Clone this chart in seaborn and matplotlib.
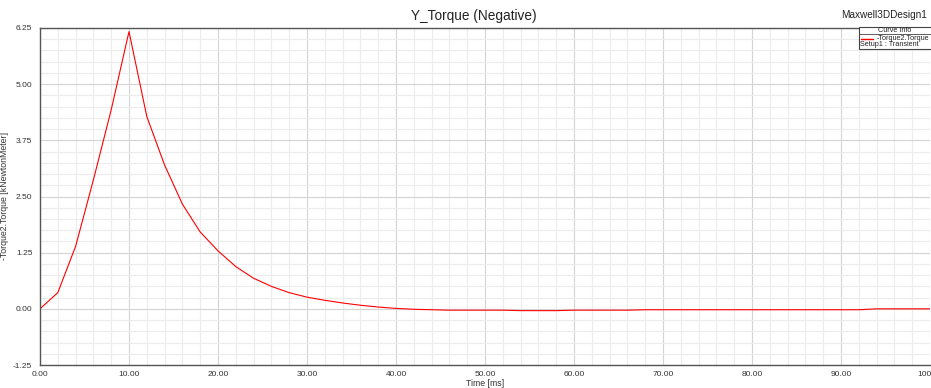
import matplotlib
matplotlib.use("Agg")
import matplotlib.pyplot as plt
import seaborn as sns
import pandas as pd
from matplotlib.ticker import MultipleLocator, FormatStrFormatter
from matplotlib.patches import Rectangle
from matplotlib.lines import Line2D

time_ms = [0, 2, 4, 6, 8, 10, 12, 14, 16, 18, 20, 22, 24, 26, 28, 30, 32, 34, 36, 38,
           40, 42, 44, 46, 48, 50, 52, 54, 56, 58, 60, 62, 64, 66, 68, 70, 72, 74, 76,
           78, 80, 82, 84, 86, 88, 90, 92, 94, 96, 98, 100]
torque_kNm = [0.00, 0.36, 1.39, 2.87, 4.43, 6.17, 4.28, 3.20, 2.33, 1.71, 1.29, 0.94,
              0.68, 0.50, 0.36, 0.26, 0.19, 0.13, 0.08, 0.04, 0.01, -0.01, -0.02, -0.03,
              -0.03, -0.03, -0.03, -0.04, -0.04, -0.04, -0.03, -0.03, -0.03, -0.03, -0.02,
              -0.02, -0.02, -0.02, -0.02, -0.02, -0.02, -0.02, -0.02, -0.02, -0.02, -0.02,
              -0.02, 0.00, 0.00, 0.00, 0.00]

df = pd.DataFrame({"Time [ms]": time_ms, "Torque": torque_kNm})

sns.set_style("white")
plt.rcParams["font.family"] = ["Liberation Sans", "DejaVu Sans"]

W, H = 931, 388
fig = plt.figure(figsize=(W / 100, H / 100), dpi=100)
ax = fig.add_axes([40 / W, (H - 365) / H, 890 / W, 337 / H])

sns.lineplot(data=df, x="Time [ms]", y="Torque", ax=ax, color="#ff0000", linewidth=0.8)

ax.set_xlim(0, 100)
ax.set_ylim(-1.25, 6.25)
ax.xaxis.set_major_locator(MultipleLocator(10))
ax.xaxis.set_minor_locator(MultipleLocator(2))
ax.yaxis.set_major_locator(MultipleLocator(1.25))
ax.yaxis.set_minor_locator(MultipleLocator(0.25))
ax.xaxis.set_major_formatter(FormatStrFormatter("%.2f"))
ax.yaxis.set_major_formatter(FormatStrFormatter("%.2f"))

ax.grid(which="major", color="#d4d4d4", linewidth=0.8)
ax.grid(which="minor", color="#ececec", linewidth=0.8)
ax.set_axisbelow(True)

for side in ["left", "bottom", "top"]:
    ax.spines[side].set_color("#555555")
    ax.spines[side].set_linewidth(1.0)
ax.spines["right"].set_visible(False)

ax.tick_params(which="major", direction="out", length=4, width=0.8, color="#555555",
               labelsize=6, labelcolor="#333333", pad=1.5)
ax.tick_params(axis="x", which="major", pad=0.5)
ax.tick_params(which="minor", direction="out", length=2.5, width=0.8, color="#555555")

ax.set_xlabel("Time [ms]", fontsize=6.3, color="#333333", labelpad=0.5)
ax.set_ylabel("-Torque2.Torque [kNewtonMeter]", fontsize=6.3, color="#333333", labelpad=3)

fig.text(474 / W, 1 - 16 / H, "Y_Torque (Negative)", ha="center", va="center",
         fontsize=9.8, color="#222222")
fig.text(927 / W, 1 - 15 / H, "Maxwell3DDesign1", ha="right", va="center",
         fontsize=7.2, color="#222222")

# Curve info box
box = Rectangle((859 / W, 1 - 49 / H), 80 / W, 21.7 / H, transform=fig.transFigure,
                facecolor="white", edgecolor="#444444", linewidth=0.8, zorder=5)
fig.add_artist(box)
fig.add_artist(Line2D([859 / W, 1], [1 - 34.3 / H, 1 - 34.3 / H], transform=fig.transFigure,
                      color="#444444", linewidth=0.6, zorder=6))
fig.text(895 / W, 1 - 30.5 / H, "Curve Info", ha="center", va="center", fontsize=5.2,
         color="#222222", zorder=7)
fig.add_artist(Line2D([861 / W, 873 / W], [1 - 39.3 / H, 1 - 39.3 / H], transform=fig.transFigure,
                      color="#ff0000", linewidth=1.0, zorder=6))
fig.text(877 / W, 1 - 39 / H, "-Torque2.Torque", ha="left", va="center", fontsize=5.2,
         color="#222222", zorder=7)
fig.text(860.5 / W, 1 - 44.5 / H, "Setup1 : Transient", ha="left", va="center", fontsize=5.2,
         color="#222222", zorder=7)

fig.savefig("out.png", dpi=100)
